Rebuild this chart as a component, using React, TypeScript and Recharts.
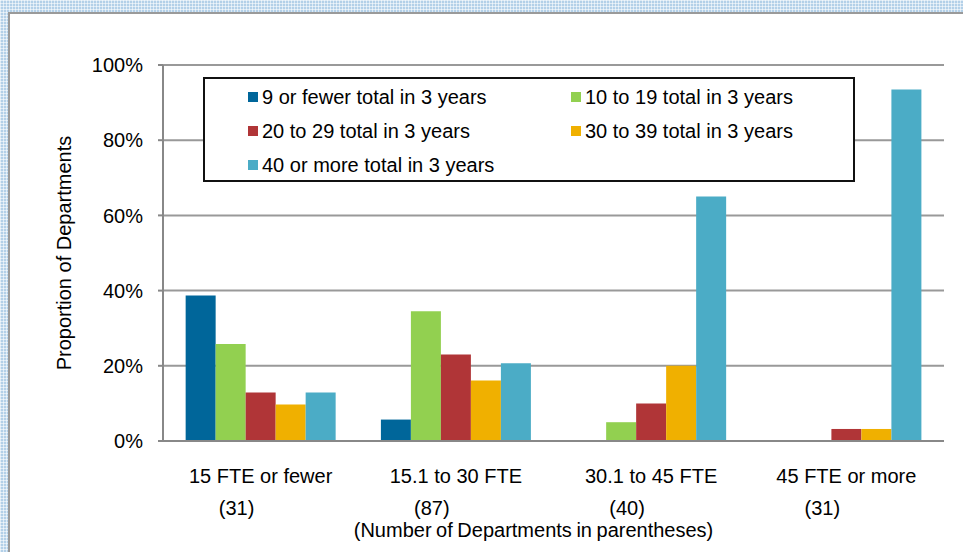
import React from 'react';
import { BarChart, Bar, XAxis, YAxis, CartesianGrid, Legend } from 'recharts';

// FTE groups and department counts (shown under each group)
const categories = ['15 FTE or fewer', '15.1 to 30 FTE', '30.1 to 45 FTE', '45 FTE or more'];
const deptCounts = ['(31)', '(87)', '(40)', '(31)'];

// proportion of departments, in %
const nineOrFewer = [38.7, 5.7, 0, 0];
const tenTo19 = [25.8, 34.5, 5, 0];
const twentyTo29 = [12.9, 23.0, 10, 3.2];
const thirtyTo39 = [9.7, 16.1, 20, 3.2];
const fortyOrMore = [12.9, 20.7, 65, 93.5];

const yTicks = [0, 20, 40, 60, 80, 100];

const series = [
    { key: 'nineOrFewer', name: '9 or fewer total in 3 years', color: '#00669a', values: nineOrFewer },
    { key: 'tenTo19', name: '10 to 19 total in 3 years', color: '#92d050', values: tenTo19 },
    { key: 'twentyTo29', name: '20 to 29 total in 3 years', color: '#b03537', values: twentyTo29 },
    { key: 'thirtyTo39', name: '30 to 39 total in 3 years', color: '#f0b000', values: thirtyTo39 },
    { key: 'fortyOrMore', name: '40 or more total in 3 years', color: '#4bacc6', values: fortyOrMore },
];

const data = categories.map((name, i) => {
    const row: any = { name };
    series.forEach(s => { row[s.key] = s.values[i]; });
    return row;
});

const FONT = '"Liberation Sans", Arial, sans-serif';

const CategoryTick = (props: any) => {
    const { x, y, payload } = props;
    const idx = categories.indexOf(payload.value);
    return (
        <g fontFamily={FONT} fontSize={20} fill="#000">
            <text x={x} y={y + 29} textAnchor="middle" dominantBaseline="central">
                {payload.value}
            </text>
            <text x={x - 24} y={y + 61} textAnchor="middle" dominantBaseline="central">
                {deptCounts[idx]}
            </text>
        </g>
    );
};

const Footnote = (props: any) => {
    const vb = props.viewBox || { x: 0, y: 0, width: 0, height: 0 };
    return (
        <text x={vb.x + vb.width / 2 - 20} y={vb.y + 83} textAnchor="middle" dominantBaseline="central"
            fontFamily={FONT} fontSize={20} fill="#000" style={{ wordSpacing: -1 }}>
            (Number of Departments in parentheses)
        </text>
    );
};

const YLabel = (props: any) => {
    const vb = props.viewBox || { x: 0, y: 0, width: 0, height: 0 };
    const cx = vb.x + vb.width / 2 - 18;
    const cy = vb.y + vb.height / 2;
    return (
        <text x={cx} y={cy} transform={`rotate(-90, ${cx}, ${cy})`} textAnchor="middle" dominantBaseline="central"
            fontFamily={FONT} fontSize={20} fill="#000">
            Proportion of Departments
        </text>
    );
};

// legend keeps the series order (row by row, two columns)
const LegendBox = () => (
    <div style={{
        width: '100%', height: '100%', boxSizing: 'border-box', border: '2px solid #111', background: '#fff',
        paddingTop: 1, paddingLeft: 43, display: 'grid', gridTemplateColumns: '323px 1fr', gridAutoRows: 34,
        fontFamily: FONT, fontSize: 20, color: '#000',
    }}>
        {series.map(s => (
            <div key={s.key} style={{ display: 'flex', alignItems: 'center', whiteSpace: 'nowrap' }}>
                <span style={{ width: 10, height: 10, background: s.color, marginRight: 4, display: 'inline-block' }} />
                {s.name}
            </div>
        ))}
    </div>
);

export default function App() {
    return (
        <div style={{
            position: 'absolute', left: 0, top: 0, width: 963, height: 552, overflow: 'hidden',
            backgroundColor: '#b3d0e8',
            backgroundImage: 'linear-gradient(90deg, rgba(255,255,255,0.55) 1px, transparent 1px), linear-gradient(rgba(255,255,255,0.55) 1px, transparent 1px)',
            backgroundSize: '3px 3px',
        }}>
            <div style={{
                position: 'absolute', left: 8, top: 12, width: 963, height: 552, background: '#fff',
                borderLeft: '2px solid #9a9a9a', borderTop: '2px solid #9a9a9a',
            }} />
            <div style={{ position: 'absolute', left: 0, top: 0 }}>
                <BarChart width={963} height={552} data={data} barGap={0} barCategoryGap="11.6%"
                    margin={{ top: 65, right: 19, left: 0, bottom: 0 }}>
                    <CartesianGrid xAxisId="b_cat" vertical={false} stroke="#999" strokeWidth={2} />
                    <XAxis xAxisId="a_edges" type="number" domain={[0, 4]} ticks={[0, 1, 2, 3, 4]} tick={false}
                        tickSize={5} height={6} axisLine={{ stroke: '#888', strokeWidth: 2 }}
                        tickLine={{ stroke: '#888', strokeWidth: 2 }} />
                    <XAxis xAxisId="b_cat" dataKey="name" height={105} axisLine={false} tickLine={false}
                        tickSize={0} tickMargin={0} interval={0} tick={<CategoryTick />} label={<Footnote />} />
                    <YAxis domain={[0, 100]} ticks={yTicks} width={163} tickFormatter={(v: number) => `${v}%`}
                        tick={{ fontSize: 20, fill: '#000', fontFamily: FONT }} tickSize={5} tickMargin={15}
                        axisLine={{ stroke: '#888', strokeWidth: 2 }} tickLine={{ stroke: '#888', strokeWidth: 2 }}
                        label={<YLabel />} />
                    <Legend layout="horizontal" verticalAlign="middle" align="center" content={<LegendBox />}
                        wrapperStyle={{ position: 'absolute', left: 203, top: 77, width: 652, height: 105 }} />
                    {series.map(s => (
                        <Bar key={s.key} xAxisId="b_cat" dataKey={s.key} name={s.name} fill={s.color}
                            isAnimationActive={false} />
                    ))}
                </BarChart>
            </div>
        </div>
    );
}
